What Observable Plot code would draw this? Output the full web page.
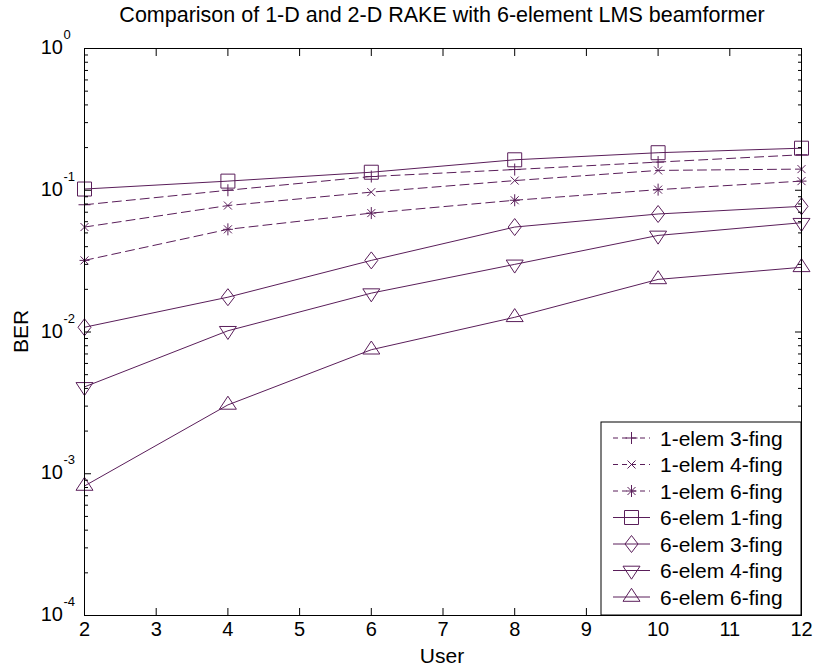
<!DOCTYPE html>
<html><head><meta charset="utf-8">
<script src="https://cdn.jsdelivr.net/npm/d3@7"></script>
<script src="https://cdn.jsdelivr.net/npm/@observablehq/plot@0.6"></script>
<style>
body{margin:0;background:#fff;}
svg{font-family:"Liberation Sans",Arial,Helvetica,sans-serif;}
</style></head><body>
<div id="chart"></div>
<script>
// ---- data ----
const users = [2, 4, 6, 8, 10, 12];
const seriesNames = ["1-elem 3-fing","1-elem 4-fing","1-elem 6-fing","6-elem 1-fing","6-elem 3-fing","6-elem 4-fing","6-elem 6-fing"];
const ber_1e_3f = [0.079, 0.100, 0.125, 0.140, 0.158, 0.178];
const ber_1e_4f = [0.055, 0.078, 0.097, 0.117, 0.138, 0.141];
const ber_1e_6f = [0.032, 0.053, 0.069, 0.085, 0.101, 0.116];
const ber_6e_1f = [0.102, 0.116, 0.134, 0.164, 0.184, 0.198];
const ber_6e_3f = [0.0108, 0.0176, 0.032, 0.055, 0.068, 0.077];
const ber_6e_4f = [0.0041, 0.0102, 0.0188, 0.030, 0.048, 0.059];
const ber_6e_6f = [0.00082, 0.00306, 0.0075, 0.0127, 0.0235, 0.0286];
const xTicks = [2,3,4,5,6,7,8,9,10,11,12];
const yMajor = [1e-4, 1e-3, 1e-2, 1e-1, 1];
const yExpLabels = ["-4","-3","-2","-1","0"];
const titleText = "Comparison of 1-D and 2-D RAKE with 6-element LMS beamformer";
const xLabel = "User";
const yLabel = "BER";

// ---- styles ----
const color = "#5a1e5a";
const sym = {
  square: {draw(c){c.moveTo(-7,-7);c.lineTo(7,-7);c.lineTo(7,7);c.lineTo(-7,7);c.closePath();}},
  diamond: {draw(c){c.moveTo(0,-8.5);c.lineTo(6.5,0);c.lineTo(0,8.5);c.lineTo(-6.5,0);c.closePath();}},
  triDown: {draw(c){c.moveTo(-8.5,-4.3);c.lineTo(8.5,-4.3);c.lineTo(0,8.7);c.closePath();}},
  triUp: {draw(c){c.moveTo(0,-8.7);c.lineTo(8.5,4.3);c.lineTo(-8.5,4.3);c.closePath();}},
  plus: {draw(c){c.moveTo(0,-6);c.lineTo(0,6);c.moveTo(-6,0);c.lineTo(6,0);}},
  times: {draw(c){c.moveTo(-4,-4);c.lineTo(4,4);c.moveTo(4,-4);c.lineTo(-4,4);}},
  aster: {draw(c){c.moveTo(0,-6);c.lineTo(0,6);c.moveTo(-5,0);c.lineTo(5,0);c.moveTo(-4,-4);c.lineTo(4,4);c.moveTo(4,-4);c.lineTo(-4,4);}}
};
const seriesValues = [ber_1e_3f, ber_1e_4f, ber_1e_6f, ber_6e_1f, ber_6e_3f, ber_6e_4f, ber_6e_6f];
const seriesSym = [sym.plus, sym.times, sym.aster, sym.square, sym.diamond, sym.triDown, sym.triUp];
const seriesDash = ["9,5","9,5","9,5",null,null,null,null];

const yMinor = [];
for (const d of [1e-4,1e-3,1e-2,1e-1]) for (let m = 2; m <= 9; m++) yMinor.push(+(d*m).toPrecision(3));

const tables = seriesNames.map((name, k) => users.map((u, i) => ({name, user: u, ber: seriesValues[k][i]})));

const marks = [];
tables.forEach((t, k) => {
  marks.push(Plot.line(t, {x: "user", y: "ber", stroke: color, strokeWidth: 1, strokeDasharray: seriesDash[k] || undefined}));
});
tables.forEach((t, k) => {
  marks.push(Plot.dot(t, {x: "user", y: "ber", symbol: seriesSym[k], r: 5, stroke: color, fill: "none", strokeWidth: 1}));
});
const blank = () => "";
marks.push(
  Plot.axisX({anchor: "bottom", ticks: xTicks, tickSize: -7, tickFormat: blank, label: null}),
  Plot.axisX({anchor: "top", ticks: xTicks, tickSize: -7, tickFormat: blank, label: null}),
  Plot.axisY({anchor: "left", ticks: yMajor, tickSize: -7, tickFormat: blank, label: null}),
  Plot.axisY({anchor: "right", ticks: yMajor, tickSize: -7, tickFormat: blank, label: null}),
  Plot.axisY({anchor: "left", ticks: yMinor, tickSize: -4, tickFormat: blank, label: null}),
  Plot.axisY({anchor: "right", ticks: yMinor, tickSize: -4, tickFormat: blank, label: null}),
  Plot.axisX({anchor: "bottom", ticks: xTicks, tickSize: 0, tickPadding: 6, fontSize: 20, label: null, tickFormat: d => String(d)}),
  Plot.frame({stroke: "#000", strokeWidth: 1})
);

const plot = Plot.plot({
  width: 815, height: 669,
  marginLeft: 84, marginRight: 14, marginTop: 48, marginBottom: 54,
  x: {domain: [2, 12]},
  y: {type: "log", domain: [1e-4, 1]},
  style: {fontFamily: "Liberation Sans, Arial, sans-serif", fontSize: "20px", color: "#000", background: "#fff"},
  marks
});
document.getElementById("chart").appendChild(plot);

const svg = d3.select(plot);
const ys = plot.scale("y");
const font = "Liberation Sans, Arial, sans-serif";

// y tick labels with superscripts
yMajor.forEach((v, i) => {
  const py = ys.apply(v);
  svg.append("text").attr("x", 63).attr("y", py + 6).attr("text-anchor", "end")
    .attr("font-size", 20).attr("font-family", font).attr("fill", "#000").text("10");
  svg.append("text").attr("x", 63.5).attr("y", py - 9).attr("text-anchor", "start")
    .attr("font-size", 13).attr("font-family", font).attr("fill", "#000").text(yExpLabels[i]);
});

// title & axis labels
svg.append("text").attr("x", 442).attr("y", 22).attr("text-anchor", "middle")
  .attr("font-size", 21.5).attr("font-family", font).attr("fill", "#000").text(titleText);
svg.append("text").attr("x", 442).attr("y", 663).attr("text-anchor", "middle")
  .attr("font-size", 21).attr("font-family", font).attr("fill", "#000").text(xLabel);
svg.append("text").attr("transform", "translate(28,331.5) rotate(-90)").attr("text-anchor", "middle")
  .attr("font-size", 21).attr("font-family", font).attr("fill", "#000").text(yLabel);

// legend
const lg = svg.append("g");
lg.append("rect").attr("x", 601).attr("y", 422).attr("width", 200).attr("height", 193)
  .attr("fill", "#fff").attr("stroke", "#000").attr("stroke-width", 1);
seriesNames.forEach((name, k) => {
  const cy = 438 + k * 26.5;
  lg.append("line").attr("x1", 613).attr("x2", 650).attr("y1", cy).attr("y2", cy)
    .attr("stroke", color).attr("stroke-width", 1)
    .attr("stroke-dasharray", seriesDash[k] ? "5,4" : null);
  const p = d3.path(); seriesSym[k].draw(p);
  lg.append("path").attr("d", p.toString()).attr("transform", `translate(631.5,${cy})`)
    .attr("fill", "none").attr("stroke", color).attr("stroke-width", 1);
  lg.append("text").attr("x", 660).attr("y", cy + 7.5).attr("font-size", 21).attr("text-anchor", "start")
    .attr("font-family", font).attr("fill", "#000").text(name);
});
</script>
</body></html>
